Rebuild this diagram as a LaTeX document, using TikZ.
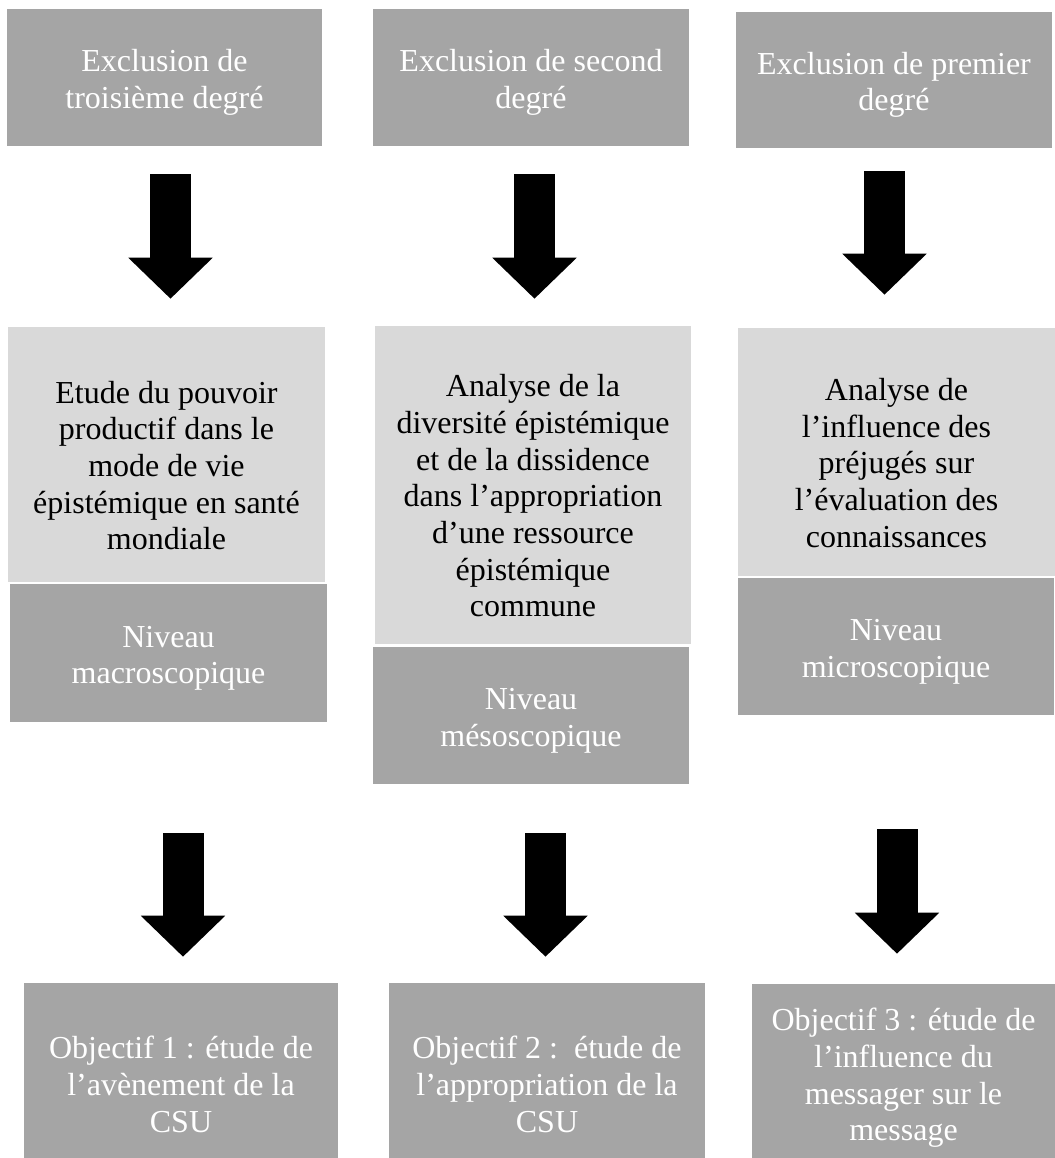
\documentclass[tikz,border=0pt]{standalone}
\usepackage{fontspec}
\setmainfont{Liberation Serif}
\usepackage{tikz}
\usetikzlibrary{arrows.meta, positioning, calc}
\definecolor{darkgrey}{HTML}{A5A5A5}
\definecolor{lightgrey}{HTML}{D9D9D9}

\begin{document}
\begin{tikzpicture}[x=0.75pt, y=-0.75pt,
	box/.style={rectangle, inner sep=0pt, align=center, font=\fontsize{24}{27.5}\selectfont},
	dark/.style={box, fill=darkgrey, text=white},
	light/.style={box, fill=lightgrey, text=black},
	bigarrow/.style={line width=30.75pt, -{Triangle[width=61.5pt, length=30.75pt]}}]
	\useasboundingbox (0,0) rectangle (1055,1158);
	
	\node[dark, minimum width=236.25pt, minimum height=102.75pt] (ex3) at (164.5,77.5) {\rule{0pt}{24pt}Exclusion de\\troisième degré};
	\node[dark, minimum width=237pt, minimum height=102.75pt] (ex2) at (531,77.5) {\rule{0pt}{24pt}Exclusion de second\\degré};
	\node[dark, minimum width=237pt, minimum height=102pt] (ex1) at (894,80) {\rule{0pt}{24pt}Exclusion de premier\\degré};
	
	\node[light, minimum width=237.75pt, minimum height=191.25pt] (etude) at (166.5,454.5) {\rule{0pt}{33pt}Etude du pouvoir\\productif dans le\\mode de vie\\épistémique en santé\\mondiale};
	\node[light, minimum width=237pt, minimum height=238.5pt] (diversite) at (533,485) {\rule{0pt}{33pt}Analyse de la\\diversité épistémique\\et de la dissidence\\dans l’appropriation\\d’une ressource\\épistémique\\commune};
	\node[light, minimum width=237.75pt, minimum height=186pt] (prejuges) at (896.5,452) {\rule{0pt}{33pt}Analyse de\\l’influence des\\préjugés sur\\l’évaluation des\\connaissances};
	
	\node[dark, minimum width=237.75pt, minimum height=103.5pt] (macro) at (168.5,653) {\rule{0pt}{24pt}Niveau\\macroscopique};
	\node[dark, minimum width=237pt, minimum height=102.75pt] (meso) at (531,715.5) {\rule{0pt}{24pt}Niveau\\mésoscopique};
	\node[dark, minimum width=237pt, minimum height=102.75pt] (micro) at (896,646.5) {\rule{0pt}{24pt}Niveau\\microscopique};
	
	% the objective boxes run on below the page edge
	\node[dark, minimum width=235.5pt, minimum height=152.25pt] (obj1) at (181,1084.5) {Objectif 1 : étude de\\l’avènement de la\\CSU};
	\node[dark, minimum width=237pt, minimum height=152.25pt] (obj2) at (547,1084.5) {Objectif 2 :\ \ étude de\\l’appropriation de la\\CSU};
	\node[dark, minimum width=227.25pt, minimum height=141pt] (obj3) at (903.5,1078) {Objectif 3 : étude de\\l’influence du\\messager sur le\\message};
	
	\draw[bigarrow, shorten <=21pt, shorten >=21pt] ($(ex3.south)+(6,0)$) -- ($(ex3.south |- etude.north)+(6,0)$);
	\draw[bigarrow, shorten <=21pt, shorten >=20.25pt] ($(ex2.south)+(3.5,0)$) -- ($(ex2.south |- diversite.north)+(3.5,0)$);
	\draw[bigarrow, shorten <=17.25pt, shorten >=24.75pt] ($(ex1.south)+(-9.5,0)$) -- ($(ex1.south |- prejuges.north)+(-9.5,0)$);
	
	\draw[bigarrow, shorten <=83.25pt, shorten >=19.5pt] ($(macro.south)+(14.5,0)$) -- ($(macro.south |- obj1.north)+(14.5,0)$);
	\draw[bigarrow, shorten <=36.75pt, shorten >=19.5pt] ($(meso.south)+(14.5,0)$) -- ($(meso.south |- obj2.north)+(14.5,0)$);
	\draw[bigarrow, shorten <=85.5pt, shorten >=22.5pt] ($(micro.south)+(1,0)$) -- ($(micro.south |- obj3.north)+(1,0)$);
\end{tikzpicture}
\end{document}
